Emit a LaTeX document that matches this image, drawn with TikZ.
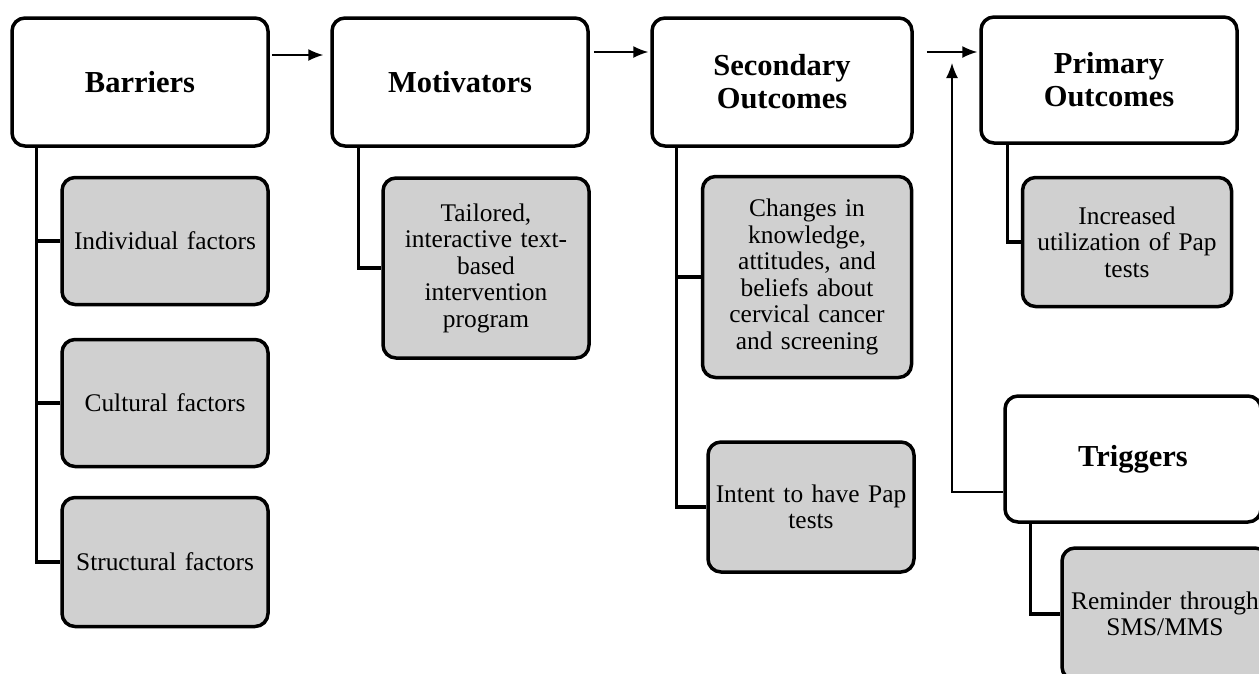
\documentclass[tikz,border=0pt]{standalone}
\usepackage{fontspec}
\setmainfont{Liberation Serif}
\usepackage{xcolor}
\usepackage{tikz}
\usetikzlibrary{calc}
\usetikzlibrary{arrows.meta}
\tikzset{>={Latex[length=15pt,width=12pt]}}
\definecolor{boxgray}{RGB}{208,208,208}

\begin{document}
\begin{tikzpicture}[x=1pt,y=-1pt,
	head/.style={draw,line width=3.5pt,rounded corners=13pt,fill=white,align=center,minimum width=256pt,minimum height=128pt,font=\fontsize{30.5}{33}\selectfont\bfseries},
	factor/.style={draw,line width=3.5pt,rounded corners=13pt,fill=boxgray,align=center,text width=196pt,inner sep=3pt,minimum width=206pt,font=\fontsize{25.4}{26.5}\selectfont},
	flow/.style={->,line width=1.5pt},
	branch/.style={line width=3.5pt}]
	\useasboundingbox (0,0) rectangle (1259,673);
	\clip (0,0) rectangle (1259,673);
	\node[head] (barriers) at (140,82) {Barriers};
	\node[head] (motiv) at (460,82) {Motivators};
	\node[head,minimum width=260pt] (second) at (782,82) {Secondary\\Outcomes};
	\node[head,minimum height=126pt] (primary) at (1109,80) {Primary\\Outcomes};
	\node[head,minimum height=126pt] (triggers) at (1133,459) {Triggers};
	\node[factor,minimum height=127pt] (indiv) at (165,241) {Individual factors};
	\node[factor,minimum height=127pt] (cultural) at (165,403) {Cultural factors};
	\node[factor,minimum height=129pt] (structural) at (165,562) {Structural factors};
	\node[factor,minimum height=180pt] (tailored) at (486,268) {Tailored,\\interactive text-\\based\\intervention\\program};
	\node[factor,minimum width=209pt,minimum height=201pt] (changes) at (807,277) {Changes in\\knowledge,\\attitudes, and\\beliefs about\\cervical cancer\\and screening};
	\node[factor,minimum height=130pt] (intent) at (811,507) {Intent to have Pap\\tests};
	\node[factor,minimum width=209pt,minimum height=129pt] (increased) at (1127,242) {Increased\\utilization of Pap\\tests};
	\node[factor,minimum height=132pt] (reminder) at (1165,614) {Reminder through\\SMS/MMS};
	\draw[flow] ([yshift=27pt,xshift=2pt]barriers.east) -- ([yshift=27pt,xshift=-7pt]motiv.west);
	\draw[flow] ([yshift=30pt,xshift=4pt]motiv.east) -- ([yshift=30pt,xshift=-2pt]second.west);
	\draw[flow] ([yshift=30pt,xshift=13pt]second.east) -- ([yshift=28pt,xshift=-2pt]primary.west);
	\coordinate (merge) at (952,63);
	\draw[flow] ([yshift=-33pt]triggers.west) -| (merge);
	\coordinate (bartrunk) at ([xshift=26pt]barriers.south west);
	\coordinate (mottrunk) at ([xshift=28pt]motiv.south west);
	\coordinate (sectrunk) at ([xshift=26pt]second.south west);
	\coordinate (pritrunk) at ([xshift=28pt]primary.south west);
	\coordinate (trigtrunk) at ([xshift=27pt]triggers.south west);
	\draw[branch] (bartrunk) |- (structural.west);
	\draw[branch] (indiv.west) -- (indiv.west -| bartrunk);
	\draw[branch] (cultural.west) -- (cultural.west -| bartrunk);
	\draw[branch] (mottrunk) |- (tailored.west);
	\draw[branch] (sectrunk) |- (intent.west);
	\draw[branch] (changes.west) -- (changes.west -| sectrunk);
	\draw[branch] (pritrunk) |- (increased.west);
	\draw[branch] (trigtrunk) |- (reminder.west);
\end{tikzpicture}
\end{document}
